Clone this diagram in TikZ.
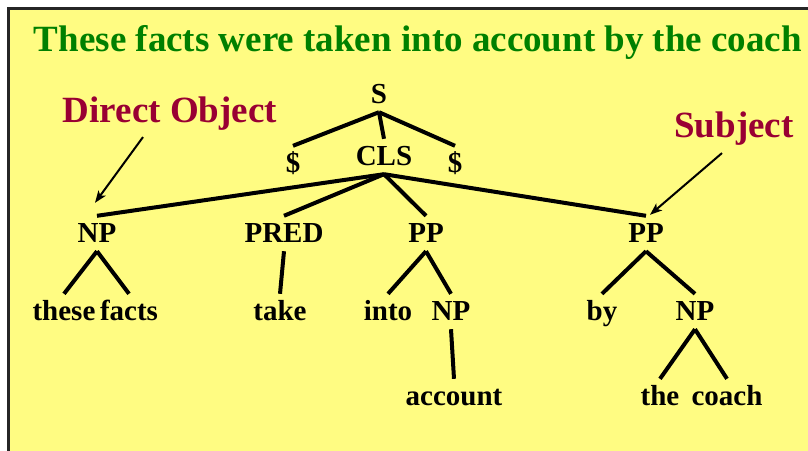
\documentclass[tikz,border=0pt]{standalone}
\usepackage{fontspec}
\setmainfont{Liberation Serif}
\usetikzlibrary{arrows.meta, positioning}
\definecolor{slideyellow}{RGB}{255,252,130}
\definecolor{titlegreen}{RGB}{0,128,0}
\definecolor{rolered}{RGB}{153,0,51}
\tikzset{
    >=Stealth,
    x=1pt,
    y=-1pt,
    tree_label/.style={
        font=\bfseries\fontsize{29}{31}\selectfont,
        text height=20pt,
        text depth=3pt,
        inner xsep=2pt,
        inner ysep=6pt,
        anchor=base
    },
    tree_edge/.style={
        line width=4pt
    },
    role_label/.style={
        font=\bfseries\fontsize{37}{40}\selectfont,
        text=rolered,
        inner sep=3pt,
        anchor=base
    },
    role_arrow/.style={
        -{Stealth[length=12pt, width=9pt, inset=3pt]},
        line width=2pt
    },
    title_text/.style={
        font=\bfseries\fontsize{37}{40}\selectfont,
        text=titlegreen,
        anchor=base
    },
    slide_frame/.style={
        draw=black!85,
        line width=3pt,
        fill=slideyellow
    }
}

\begin{document}
\begin{tikzpicture}
\useasboundingbox (0,0) rectangle (808,450);
\fill[white] (0,0) rectangle (808,450);
\draw[slide_frame] (8.5,8.5) rectangle (830,470);

% --- Title ---
\node[title_text] (Title) at (418,51) {These facts were taken into account by the coach};

% --- Top of the tree ---
\node[tree_label] (S) at (379,103) {S};
\node[tree_label] (DolL) at (293,172) {\$};
\node[tree_label] (CLS) at (384,165) {CLS};
\node[tree_label] (DolR) at (455,172) {\$};

% --- Constituents ---
\node[tree_label] (NPobj) at (97,242) {NP};
\node[tree_label] (Pred) at (284,242) {PRED};
\node[tree_label] (PPinto) at (426,242) {PP};
\node[tree_label] (PPby) at (646,242) {PP};

% --- Words ---
\node[tree_label] (These) at (64,320) {these};
\node[tree_label] (Facts) at (129,320) {facts};
\node[tree_label] (Take) at (280,320) {take};
\node[tree_label] (Into) at (388,320) {into};
\node[tree_label] (NPacc) at (451,320) {NP};
\node[tree_label] (By) at (602,320) {by};
\node[tree_label] (NPcoach) at (695,320) {NP};
\node[tree_label] (Account) at (454,405) {account};
\node[tree_label] (The) at (660,405) {the};
\node[tree_label] (Coach) at (727,405) {coach};

% --- Roles ---
\node[role_label] (DirObj) at (170,122) {Direct Object};
\node[role_label] (Subj) at (734,137) {Subject};

% --- Edges ---
\draw[tree_edge] (S.south) -- (DolL.north);
\draw[tree_edge] (S.south) -- (CLS.north);
\draw[tree_edge] (S.south) -- (DolR.north);
\draw[tree_edge] (CLS.south) -- (NPobj.north);
\draw[tree_edge] (CLS.south) -- (Pred.north);
\draw[tree_edge] (CLS.south) -- (PPinto.north);
\draw[tree_edge] (CLS.south) -- (PPby.north);
\draw[tree_edge] (NPobj.south) -- (These.north);
\draw[tree_edge] (NPobj.south) -- (Facts.north);
\draw[tree_edge] (Pred.south) -- (Take.north);
\draw[tree_edge] (PPinto.south) -- (Into.north);
\draw[tree_edge] (PPinto.south) -- (NPacc.north);
\draw[tree_edge] (NPacc.south) -- (Account.north);
\draw[tree_edge] (PPby.south) -- (By.north);
\draw[tree_edge] (PPby.south) -- (NPcoach.north);
\draw[tree_edge] (NPcoach.south) -- (The.north);
\draw[tree_edge] (NPcoach.south) -- (Coach.north);

\draw[role_arrow] ([xshift=-27pt, yshift=-4pt]DirObj.south) -- ([xshift=-2pt, yshift=13pt]NPobj.north);
\draw[role_arrow] ([xshift=-12pt, yshift=-5pt]Subj.south) -- ([xshift=4pt, yshift=1pt]PPby.north);

\end{tikzpicture}
\end{document}
